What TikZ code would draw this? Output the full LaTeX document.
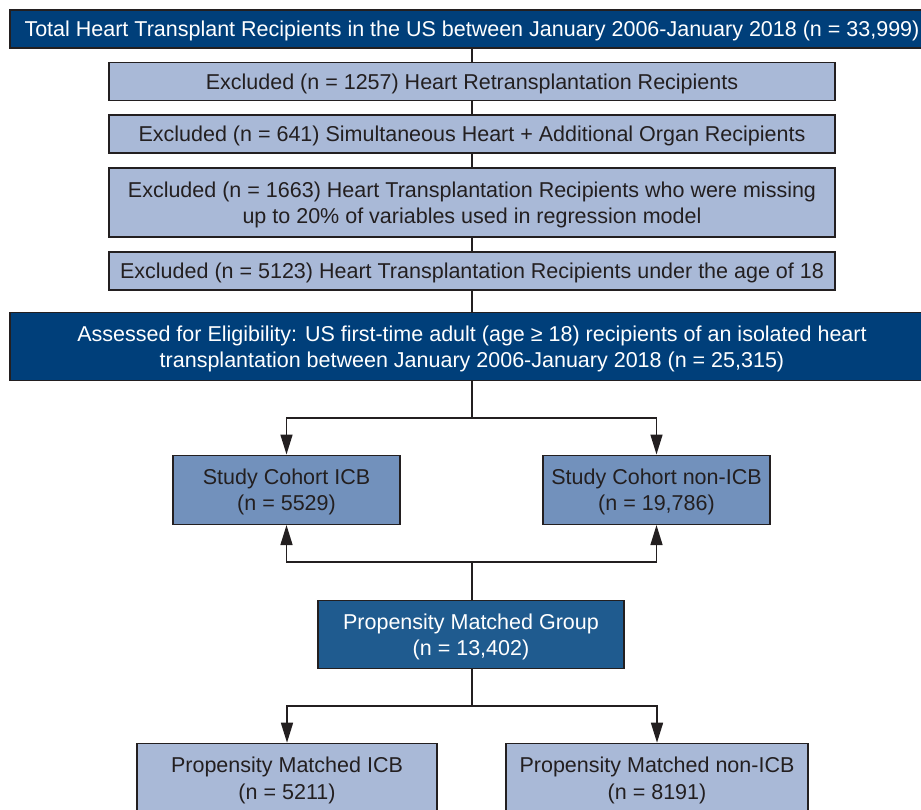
\documentclass[tikz,border=0pt]{standalone}
\usepackage{fontspec}
\setmainfont{Liberation Sans}
\usetikzlibrary{arrows.meta}
\definecolor{darkblue}{HTML}{003F7A}
\definecolor{midblue}{HTML}{1F5B8F}
\definecolor{cohortblue}{HTML}{7291BC}
\definecolor{lightblue}{HTML}{A9B9D7}
\definecolor{ink}{HTML}{231F20}
\tikzset{
  box/.style={draw=ink, line width=1.6pt, inner sep=0pt, align=center,
    text depth=0pt, font=\fontsize{21.5}{26.5}\selectfont},
  darkbox/.style={box, fill=darkblue, text=white},
  groupbox/.style={box, fill=midblue, text=white},
  cohortbox/.style={box, fill=cohortblue, text=ink},
  lightbox/.style={box, fill=lightblue, text=ink},
  conn/.style={draw=ink, line width=1.6pt},
  arr/.style={conn, -{Triangle[length=20pt,width=12pt]}}
}
\begin{document}
\begin{tikzpicture}[x=1pt,y=-1pt]
\useasboundingbox (0,0) rectangle (921,810);
\node[darkbox, minimum width=924pt, minimum height=38pt] (top) at (472,29)
  {Total Heart Transplant Recipients in the US between January 2006-January 2018 (n = 33,999)};
\node[lightbox, minimum width=726pt, minimum height=38pt] (ex1) at (472,81.5)
  {Excluded (n = 1257) Heart Retransplantation Recipients};
\node[lightbox, minimum width=726pt, minimum height=38pt] (ex2) at (472,134)
  {Excluded (n = 641) Simultaneous Heart + Additional Organ Recipients};
\node[lightbox, minimum width=726pt, minimum height=69pt] (ex3) at (472,202.8)
  {Excluded (n = 1663) Heart Transplantation Recipients who were missing\\up to 20\% of variables used in regression model};
\node[lightbox, minimum width=726pt, minimum height=38pt] (ex4) at (472,271)
  {Excluded (n = 5123) Heart Transplantation Recipients under the age of 18};
\node[darkbox, minimum width=924pt, minimum height=68pt] (assess) at (472,346.5)
  {Assessed for Eligibility: US first-time adult (age ≥ 18) recipients of an isolated heart\\transplantation between January 2006-January 2018 (n = 25,315)};
\node[cohortbox, minimum width=227pt, minimum height=69pt] (sicb) at (286.5,489.8)
  {Study Cohort ICB\\(n = 5529)};
\node[cohortbox, minimum width=227pt, minimum height=69pt] (snon) at (656.5,489.8)
  {Study Cohort non-ICB\\(n = 19,786)};
\node[groupbox, minimum width=306pt, minimum height=68pt] (pmg) at (471,634.5)
  {Propensity Matched Group\\(n = 13,402)};
\node[lightbox, minimum width=300pt, minimum height=69pt] (bicb) at (287,778)
  {Propensity Matched ICB\\(n = 5211)};
\node[lightbox, minimum width=302pt, minimum height=69pt] (bnon) at (657,778)
  {Propensity Matched non-ICB\\(n = 8191)};
% spine
\draw[conn] (472,0 |- top.south) -- (472,0 |- ex1.north);
\draw[conn] (472,0 |- ex1.south) -- (472,0 |- ex2.north);
\draw[conn] (472,0 |- ex2.south) -- (472,0 |- ex3.north);
\draw[conn] (472,0 |- ex3.south) -- (472,0 |- ex4.north);
\draw[conn] (472,0 |- ex4.south) -- (472,0 |- assess.north);
% split 1
\coordinate (s1) at (472,418);
\draw[conn] (472,0 |- assess.south) -- (s1);
\draw[arr] (s1) -| (sicb.north);
\draw[arr] (s1) -| (snon.north);
% merge
\coordinate (m1) at (472,562);
\draw[conn] (472,0 |- pmg.north) -- (m1);
\draw[arr] (m1) -| (sicb.south);
\draw[arr] (m1) -| (snon.south);
% split 2
\coordinate (s2) at (472,706);
\draw[conn] (472,0 |- pmg.south) -- (s2);
\draw[arr] (s2) -| (bicb.north);
\draw[arr] (s2) -| (bnon.north);
\end{tikzpicture}
\end{document}
